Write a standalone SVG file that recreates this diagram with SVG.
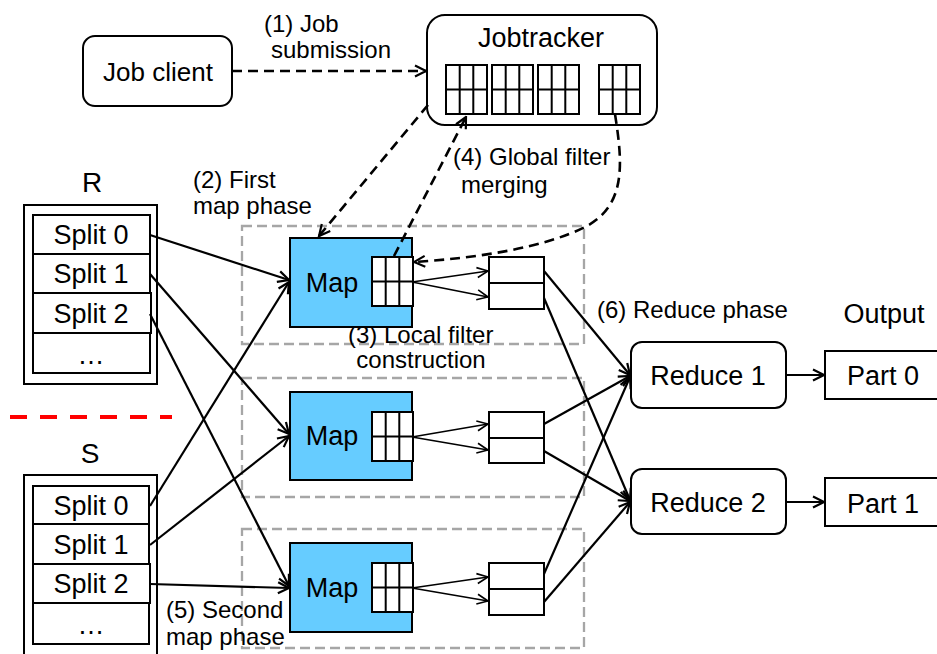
<svg xmlns="http://www.w3.org/2000/svg" xmlns:xlink="http://www.w3.org/1999/xlink" width="937" height="654" viewBox="0 0 937 654">
  <style>
    text { font-family: "Liberation Sans", Arial, sans-serif; fill: #000; }
    .node { font-size: 27px; }
    .lbl { font-size: 24px; }
    .big { font-size: 28px; }
    .box { fill: #fff; stroke: #000; stroke-width: 2; }
    .map { fill: #66ccff; stroke: #000; stroke-width: 2; }
    .group { fill: none; stroke: #a6a6a6; stroke-width: 2.3; stroke-dasharray: 10 5; }
    .edge { fill: none; stroke: #000; stroke-width: 2.2; }
    .thin { fill: none; stroke: #000; stroke-width: 1.6; }
    .dash { fill: none; stroke: #000; stroke-width: 2.6; stroke-dasharray: 10 6; }
  </style>
  <defs>
    <marker id="arrow" viewBox="0 0 14 14" refX="12.5" refY="7" markerWidth="14" markerHeight="14" markerUnits="userSpaceOnUse" orient="auto">
      <path d="M1.5,1.5 L12.5,7 L1.5,12.5" fill="none" stroke="#000" stroke-width="2.2"/>
    </marker>
    <marker id="arrowThin" viewBox="0 0 14 14" refX="12.5" refY="7" markerWidth="14" markerHeight="14" markerUnits="userSpaceOnUse" orient="auto">
      <path d="M1.5,2 L12.5,7 L1.5,12" fill="none" stroke="#000" stroke-width="1.6"/>
    </marker>
    <!-- 3x2 filter grid -->
    <g id="filter">
      <rect x="0" y="0" width="41" height="49" fill="#fff" stroke="#000" stroke-width="2"/>
      <path d="M13.7,0 V49 M27.3,0 V49 M0,24.5 H41" stroke="#000" stroke-width="2" fill="none"/>
    </g>
  </defs>

  <!-- separator between the two relations -->
  <line x1="10" y1="417" x2="172" y2="417" stroke="#ff0000" stroke-width="4" stroke-dasharray="17 13"/>

  <!-- map task groups -->
  <g id="map-groups">
    <rect class="group" x="242" y="226" width="342" height="118"/>
    <rect class="group" x="242" y="378" width="342" height="119"/>
    <rect class="group" x="242" y="529" width="342" height="119"/>
  </g>

  <g id="job-client">
    <rect class="box" x="83" y="36" width="149" height="70" rx="12"/>
    <text class="node" x="158" y="81" text-anchor="middle" style="font-size:26px">Job client</text>
  </g>

  <g id="jobtracker">
    <rect class="box" x="427" y="15" width="230" height="110" rx="18"/>
    <text class="node" x="541" y="47" text-anchor="middle">Jobtracker</text>
    <use xlink:href="#filter" x="446" y="65"/>
    <use xlink:href="#filter" x="492" y="65"/>
    <use xlink:href="#filter" x="538" y="65"/>
    <use xlink:href="#filter" x="599" y="65"/>
  </g>

  <g id="relation-r">
    <text class="big" x="92" y="192" text-anchor="middle">R</text>
    <rect class="box" x="24" y="205" width="133" height="179"/>
    <rect class="box" x="33" y="215" width="117" height="39"/>
    <rect class="box" x="33" y="254" width="117" height="39"/>
    <rect class="box" x="33" y="293" width="118" height="40"/>
    <rect class="box" x="33" y="333" width="117" height="40"/>
    <text class="node" x="91" y="244" text-anchor="middle">Split 0</text>
    <text class="node" x="91" y="283" text-anchor="middle">Split 1</text>
    <text class="node" x="91" y="323" text-anchor="middle">Split 2</text>
    <text class="node" x="91" y="364" text-anchor="middle">…</text>
  </g>

  <g id="relation-s">
    <text class="big" x="90" y="463" text-anchor="middle">S</text>
    <rect class="box" x="24" y="475" width="133" height="190"/>
    <rect class="box" x="33" y="486" width="116" height="38"/>
    <rect class="box" x="33" y="524" width="116" height="40"/>
    <rect class="box" x="33" y="564" width="117" height="39"/>
    <rect class="box" x="33" y="603" width="116" height="41"/>
    <text class="node" x="91" y="515" text-anchor="middle">Split 0</text>
    <text class="node" x="91" y="554" text-anchor="middle">Split 1</text>
    <text class="node" x="91" y="593" text-anchor="middle">Split 2</text>
    <text class="node" x="91" y="634" text-anchor="middle">…</text>
  </g>

  <g id="map-1">
    <rect class="map" x="290" y="238" width="122" height="89"/>
    <text class="node" x="332" y="292" text-anchor="middle">Map</text>
    <use xlink:href="#filter" x="372" y="257"/>
  </g>
  <g id="map-2">
    <rect class="map" x="290" y="392" width="122" height="88"/>
    <text class="node" x="332" y="445" text-anchor="middle">Map</text>
    <use xlink:href="#filter" x="372" y="412"/>
  </g>
  <g id="map-3">
    <rect class="map" x="290" y="543" width="122" height="89"/>
    <text class="node" x="332" y="597" text-anchor="middle">Map</text>
    <use xlink:href="#filter" x="372" y="563"/>
  </g>

  <g id="partition-1">
    <rect class="box" x="489" y="257" width="55" height="26"/>
    <rect class="box" x="489" y="283" width="55" height="26"/>
  </g>
  <g id="partition-2">
    <rect class="box" x="489" y="412" width="55" height="26"/>
    <rect class="box" x="489" y="438" width="55" height="25"/>
  </g>
  <g id="partition-3">
    <rect class="box" x="489" y="563" width="55" height="26"/>
    <rect class="box" x="489" y="589" width="55" height="26"/>
  </g>

  <g id="reduce-1">
    <rect class="box" x="631" y="342" width="155" height="66" rx="11"/>
    <text class="node" x="708" y="385" text-anchor="middle">Reduce 1</text>
  </g>
  <g id="reduce-2">
    <rect class="box" x="631" y="469" width="155" height="65" rx="11"/>
    <text class="node" x="708" y="512" text-anchor="middle">Reduce 2</text>
  </g>

  <g id="part-0">
    <rect class="box" x="825" y="351" width="120" height="48"/>
    <text class="node" x="883" y="385" text-anchor="middle">Part 0</text>
  </g>
  <g id="part-1">
    <rect class="box" x="825" y="478" width="120" height="48"/>
    <text class="node" x="883" y="513" text-anchor="middle">Part 1</text>
  </g>

  <g id="labels">
    <text class="lbl" x="264" y="32">(1) Job</text>
    <text class="lbl" x="271" y="58">submission</text>
    <text class="lbl" x="193" y="188">(2) First</text>
    <text class="lbl" x="193" y="214">map phase</text>
    <text class="lbl" x="453" y="165">(4) Global filter</text>
    <text class="lbl" x="461" y="193">merging</text>
    <text class="lbl" x="348" y="343">(3) Local filter</text>
    <text class="lbl" x="421" y="368" text-anchor="middle">construction</text>
    <text class="lbl" x="597" y="318">(6) Reduce phase</text>
    <text class="node" x="884" y="323" text-anchor="middle">Output</text>
    <text class="lbl" x="166" y="618">(5) Second</text>
    <text class="lbl" x="166" y="645">map phase</text>
  </g>

  <g id="connectors">
    <!-- job control (dashed) -->
    <path class="dash" d="M232,71 L426,71" marker-end="url(#arrow)"/>
    <path class="dash" d="M428,105 L319,236" marker-end="url(#arrow)"/>
    <path class="dash" d="M394,256 L466,117" marker-end="url(#arrow)"/>
    <path class="dash" d="M615,114 C622,160 628,205 585,227 C545,247 480,258 414,262" marker-end="url(#arrow)"/>

    <!-- input splits to map tasks -->
    <path class="edge" d="M150,235 L289,280" marker-end="url(#arrow)"/>
    <path class="edge" d="M150,274 L289,434" marker-end="url(#arrow)"/>
    <path class="edge" d="M150,314 L289,586" marker-end="url(#arrow)"/>
    <path class="edge" d="M150,506 L289,282" marker-end="url(#arrow)"/>
    <path class="edge" d="M150,545 L289,436" marker-end="url(#arrow)"/>
    <path class="edge" d="M150,584 L289,588" marker-end="url(#arrow)"/>

    <!-- map output partitioning -->
    <path class="thin" d="M412,282 L488,271" marker-end="url(#arrowThin)"/>
    <path class="thin" d="M412,282 L488,297" marker-end="url(#arrowThin)"/>
    <path class="thin" d="M412,437 L488,424" marker-end="url(#arrowThin)"/>
    <path class="thin" d="M412,437 L488,450" marker-end="url(#arrowThin)"/>
    <path class="thin" d="M412,588 L488,577" marker-end="url(#arrowThin)"/>
    <path class="thin" d="M412,588 L488,601" marker-end="url(#arrowThin)"/>

    <!-- shuffle to reducers -->
    <path class="edge" d="M544,271 L630,375" marker-end="url(#arrow)"/>
    <path class="edge" d="M544,298 L630,500" marker-end="url(#arrow)"/>
    <path class="edge" d="M544,424 L630,376" marker-end="url(#arrow)"/>
    <path class="edge" d="M544,451 L630,501" marker-end="url(#arrow)"/>
    <path class="edge" d="M544,574 L630,377" marker-end="url(#arrow)"/>
    <path class="edge" d="M544,602 L630,502" marker-end="url(#arrow)"/>

    <!-- reducers to output parts -->
    <path class="edge" d="M786,375 L824,375" marker-end="url(#arrow)"/>
    <path class="edge" d="M786,502 L824,502" marker-end="url(#arrow)"/>
  </g>
</svg>
